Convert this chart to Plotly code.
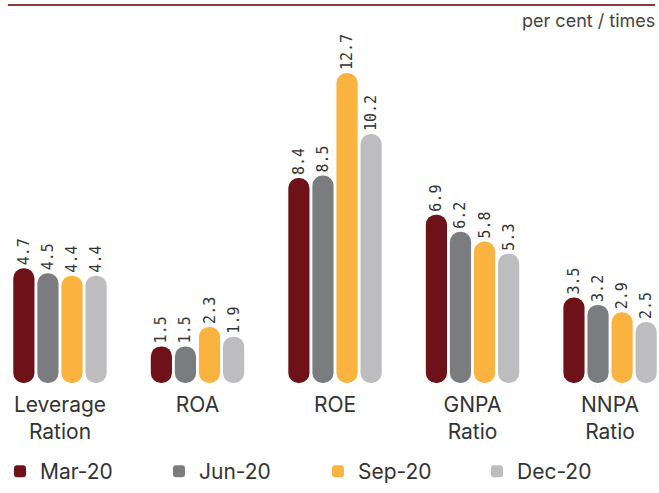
import plotly.graph_objects as go

categories = ["Leverage<br>Ration", "ROA", "ROE", "GNPA<br>Ratio", "NNPA<br>Ratio"]
series_names = ["Mar-20", "Jun-20", "Sep-20", "Dec-20"]
mar20 = [4.7, 1.5, 8.4, 6.9, 3.5]
jun20 = [4.5, 1.5, 8.5, 6.2, 3.2]
sep20 = [4.4, 2.3, 12.7, 5.8, 2.9]
dec20 = [4.4, 1.9, 10.2, 5.3, 2.5]
values = [mar20, jun20, sep20, dec20]
colors = ["#6f1118", "#7b7c7f", "#fbb33f", "#bdbdbf"]

x_idx = list(range(len(categories)))

fig = go.Figure()
for name, vals, col in zip(series_names, values, colors):
    fig.add_trace(go.Bar(
        x=x_idx, y=vals, base=[0] * len(vals), name=name,
        marker=dict(color=col, line=dict(width=0)),
        text=[f"{v:.1f}" for v in vals], textposition="outside",
        textangle=-90, cliponaxis=False, constraintext="none",
        textfont=dict(family="DejaVu Sans Mono", size=15, color="#333333"),
    ))

plot_top = 40
plot_bottom = 383
plot_h = plot_bottom - plot_top
fig.update_layout(
    width=659, height=493,
    margin=dict(l=0, r=0, t=plot_top, b=493 - plot_bottom),
    paper_bgcolor="white", plot_bgcolor="white",
    barmode="group", bargap=0.3, bargroupgap=0.12,
    barcornerradius=11,
    font=dict(family="Inter", color="#333333"),
    xaxis=dict(
        range=[-0.436, 4.356], tickmode="array", tickvals=x_idx, ticktext=categories,
        showgrid=False, zeroline=False, showline=False, ticks="", automargin=False,
        tickfont=dict(family="Inter", size=21, color="#333333"),
        ticklabelstandoff=7,
    ),
    yaxis=dict(range=[0, plot_h / 24.4], visible=False, automargin=False),
    legend=dict(
        orientation="h", x=0.0, xanchor="left", y=-(492 - plot_bottom) / plot_h, yanchor="bottom",
        font=dict(family="Inter", size=21, color="#333333"),
        entrywidth=114, entrywidthmode="pixels", itemwidth=30,
        traceorder="normal",
    ),
    showlegend=True,
)
fig.add_shape(type="line", xref="paper", yref="paper",
              x0=0.012, x1=0.994, y0=(plot_bottom - 5) / plot_h, y1=(plot_bottom - 5) / plot_h,
              line=dict(color="#8b3a3e", width=2))
fig.add_annotation(text="per cent / times", xref="paper", yref="paper",
                   x=0.997, y=(plot_bottom - 21) / plot_h, xanchor="right", yanchor="middle",
                   showarrow=False, font=dict(family="Inter", size=18, color="#444444"))

fig.write_html("out.html", config={"displayModeBar": False},
               post_script="document.body.style.margin='0';document.body.style.overflow='hidden';")
